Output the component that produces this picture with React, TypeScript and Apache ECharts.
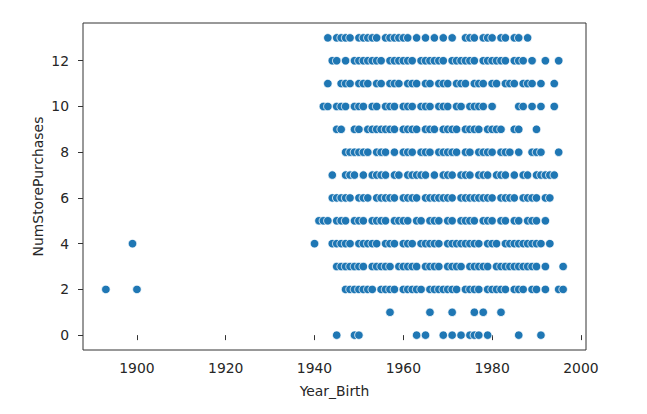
import React, { useEffect, useRef } from "react";
import * as echarts from "echarts";

const xTicks = [1900, 1920, 1940, 1960, 1980, 2000];
const yTicks = [0, 2, 4, 6, 8, 10, 12];

// Year_Birth values present at each NumStorePurchases level
const purchases13 = [1943, 1945, 1946, 1947, 1948, 1950, 1951, 1952, 1953, 1954, 1956, 1957, 1958, 1959, 1960, 1961, 1963, 1965, 1967, 1969, 1971, 1974, 1975, 1976, 1978, 1979, 1980, 1982, 1983, 1985, 1986, 1988];
const purchases12 = [1944, 1945, 1947, 1949, 1950, 1951, 1952, 1953, 1954, 1955, 1957, 1958, 1959, 1960, 1961, 1962, 1964, 1965, 1966, 1967, 1968, 1969, 1971, 1972, 1973, 1974, 1975, 1976, 1978, 1979, 1980, 1981, 1982, 1983, 1985, 1986, 1987, 1989, 1992, 1995];
const purchases11 = [1943, 1946, 1947, 1948, 1950, 1951, 1952, 1954, 1955, 1957, 1958, 1959, 1961, 1962, 1963, 1965, 1966, 1968, 1969, 1970, 1972, 1973, 1974, 1976, 1977, 1978, 1980, 1981, 1983, 1984, 1985, 1987, 1988, 1989, 1991, 1994];
const purchases10 = [1942, 1943, 1945, 1946, 1947, 1949, 1950, 1951, 1953, 1954, 1956, 1957, 1958, 1960, 1961, 1962, 1964, 1965, 1966, 1968, 1969, 1970, 1972, 1973, 1975, 1976, 1977, 1978, 1980, 1986, 1987, 1989, 1991, 1994];
const purchases9 = [1945, 1946, 1949, 1950, 1952, 1953, 1954, 1955, 1956, 1957, 1958, 1960, 1961, 1962, 1963, 1965, 1966, 1967, 1969, 1970, 1971, 1972, 1974, 1975, 1976, 1977, 1979, 1980, 1981, 1982, 1985, 1986, 1990];
const purchases8 = [1947, 1948, 1949, 1950, 1951, 1952, 1954, 1955, 1956, 1958, 1960, 1961, 1962, 1964, 1965, 1966, 1968, 1969, 1970, 1971, 1972, 1974, 1975, 1977, 1978, 1979, 1980, 1982, 1983, 1984, 1986, 1989, 1990, 1991, 1995];
const purchases7 = [1944, 1947, 1948, 1949, 1951, 1953, 1954, 1955, 1956, 1958, 1959, 1961, 1962, 1963, 1964, 1965, 1967, 1969, 1970, 1971, 1973, 1974, 1975, 1977, 1978, 1979, 1981, 1982, 1983, 1985, 1987, 1988, 1990, 1991, 1992, 1993, 1994];
const purchases6 = [1944, 1945, 1946, 1947, 1948, 1950, 1951, 1952, 1954, 1955, 1956, 1957, 1958, 1960, 1961, 1962, 1963, 1965, 1966, 1967, 1968, 1969, 1970, 1971, 1973, 1974, 1975, 1976, 1977, 1978, 1979, 1980, 1982, 1983, 1984, 1985, 1987, 1988, 1989, 1990, 1992, 1993];
const purchases5 = [1941, 1942, 1943, 1945, 1946, 1947, 1949, 1950, 1951, 1953, 1954, 1955, 1956, 1958, 1959, 1960, 1961, 1963, 1964, 1966, 1967, 1968, 1970, 1971, 1973, 1974, 1975, 1976, 1978, 1979, 1980, 1982, 1983, 1985, 1986, 1988, 1989, 1990, 1992];
const purchases4 = [1899, 1940, 1944, 1945, 1946, 1947, 1948, 1950, 1951, 1952, 1953, 1954, 1956, 1957, 1958, 1960, 1961, 1962, 1964, 1965, 1966, 1967, 1968, 1970, 1971, 1972, 1973, 1974, 1975, 1976, 1977, 1979, 1980, 1981, 1983, 1984, 1985, 1986, 1987, 1988, 1989, 1990, 1991, 1993];
const purchases3 = [1945, 1946, 1947, 1948, 1949, 1950, 1951, 1953, 1954, 1955, 1956, 1957, 1959, 1960, 1961, 1962, 1963, 1965, 1966, 1967, 1968, 1970, 1971, 1972, 1973, 1975, 1976, 1977, 1978, 1979, 1981, 1982, 1983, 1984, 1985, 1986, 1987, 1988, 1989, 1990, 1992, 1996];
const purchases2 = [1893, 1900, 1947, 1948, 1949, 1950, 1951, 1952, 1953, 1955, 1956, 1957, 1958, 1960, 1961, 1962, 1963, 1964, 1966, 1967, 1968, 1969, 1970, 1971, 1972, 1974, 1975, 1976, 1977, 1979, 1980, 1981, 1982, 1983, 1985, 1986, 1987, 1989, 1990, 1992, 1995, 1996];
const purchases1 = [1957, 1966, 1971, 1976, 1978, 1982];
const purchases0 = [1945, 1949, 1950, 1963, 1965, 1969, 1971, 1973, 1975, 1976, 1977, 1979, 1986, 1991];

const rows: [number, number[]][] = [
  [0, purchases0],
  [1, purchases1],
  [2, purchases2],
  [3, purchases3],
  [4, purchases4],
  [5, purchases5],
  [6, purchases6],
  [7, purchases7],
  [8, purchases8],
  [9, purchases9],
  [10, purchases10],
  [11, purchases11],
  [12, purchases12],
  [13, purchases13],
];

const FONT = "DejaVu Sans";
const TEXT = "#262626";
const AXIS = "#333333";

export default function App() {
  const ref = useRef<HTMLDivElement>(null);
  useEffect(() => {
    if (!ref.current) return;
    const chart = echarts.init(ref.current, undefined, { renderer: "svg" });
    const data: number[][] = [];
    rows.forEach(([y, years]) => years.forEach((yr) => data.push([yr, y])));
    chart.setOption({
      animation: false,
      backgroundColor: "#ffffff",
      grid: {
        left: 83,
        top: 23,
        width: 503,
        height: 327,
        show: true,
        borderColor: AXIS,
        borderWidth: 1,
        backgroundColor: "transparent",
      },
      xAxis: {
        type: "value",
        min: 1887.85,
        max: 2001.15,
        name: "Year_Birth",
        nameLocation: "middle",
        nameGap: 34,
        nameMoveOverlap: false,
        nameTextStyle: { fontFamily: FONT, fontSize: 13.9, color: TEXT },
        axisLine: { show: false },
        axisTick: {
          show: true,
          length: 5,
          inside: false,
          customValues: xTicks,
          lineStyle: { color: AXIS, width: 1 },
        },
        axisLabel: {
          customValues: xTicks,
          margin: 11,
          fontFamily: FONT,
          fontSize: 13.9,
          color: TEXT,
          formatter: (v: number) => String(v),
        },
        splitLine: { show: false },
      },
      yAxis: {
        type: "value",
        min: -0.65,
        max: 13.65,
        name: "NumStorePurchases",
        nameLocation: "middle",
        nameGap: 38,
        nameMoveOverlap: false,
        nameTextStyle: { fontFamily: FONT, fontSize: 13.9, color: TEXT },
        axisLine: { show: false },
        axisTick: {
          show: true,
          length: 5,
          inside: false,
          customValues: yTicks,
          lineStyle: { color: AXIS, width: 1 },
        },
        axisLabel: {
          customValues: yTicks,
          margin: 14,
          fontFamily: FONT,
          fontSize: 13.9,
          color: TEXT,
          formatter: (v: number) => String(v),
        },
        splitLine: { show: false },
      },
      series: [
        {
          type: "scatter",
          data,
          symbol: "circle",
          symbolSize: 8.5,
          itemStyle: {
            color: "#1f77b4",
            borderColor: "#ffffff",
            borderWidth: 0.8,
            opacity: 1,
          },
        },
      ],
    });
    return () => chart.dispose();
  }, []);
  return (
    <div
      ref={ref}
      style={{ position: "fixed", left: 0, top: 0, width: 647, height: 414, background: "#fff" }}
    />
  );
}
